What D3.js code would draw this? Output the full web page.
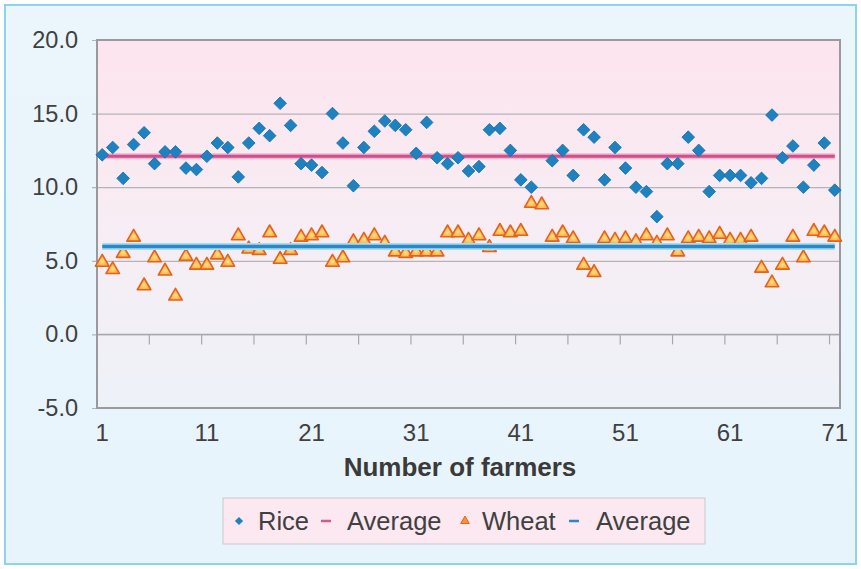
<!DOCTYPE html>
<html>
<head>
<meta charset="utf-8">
<script src="https://cdn.jsdelivr.net/npm/d3@7/dist/d3.min.js"></script>
<style>
  html, body { margin: 0; padding: 0; background: #ffffff; }
  svg { display: block; font-family: "Liberation Sans", Arial, sans-serif; }
</style>
</head>
<body>
<svg id="chart" width="861" height="569"></svg>
<script>
// Yield per farmer (one entry per farmer, 1..71); null = no rice record
const farmers = d3.range(1, 72);
const rice = [
  12.2, 12.7, 10.6, 12.9, 13.7, 11.6, 12.4, 12.4, 11.3, 11.2,
  12.1, 13.0, 12.7, 10.7, 13.0, 14.0, 13.5, 15.7, 14.2, 11.6,
  11.5, 11.0, 15.0, 13.0, 10.1, 12.7, 13.8, 14.5, 14.2, 13.9,
  12.3, 14.4, 12.0, 11.6, 12.0, 11.1, 11.4, 13.9, 14.0, 12.5,
  10.5, 10.0, null, 11.8, 12.5, 10.8, 13.9, 13.4, 10.5, 12.7,
  11.3, 10.0, 9.7, 8.0, 11.6, 11.6, 13.4, 12.5, 9.7, 10.8,
  10.8, 10.8, 10.3, 10.6, 14.9, 12.0, 12.8, 10.0, 11.5, 13.0, 9.8
];
const wheat = [
  4.9, 4.4, 5.5, 6.6, 3.3, 5.2, 4.3, 2.6, 5.3, 4.7,
  4.7, 5.4, 4.9, 6.7, 5.8, 5.7, 6.9, 5.1, 5.7, 6.6,
  6.7, 6.9, 4.9, 5.2, 6.3, 6.4, 6.7, 6.2, 5.6, 5.5,
  5.6, 5.6, 5.6, 6.9, 6.9, 6.4, 6.7, 5.9, 7.0, 6.9,
  7.0, 8.9, 8.8, 6.6, 6.9, 6.5, 4.7, 4.2, 6.5, 6.4,
  6.5, 6.3, 6.7, 6.2, 6.7, 5.6, 6.5, 6.6, 6.5, 6.8,
  6.4, 6.4, 6.6, 4.5, 3.5, 4.7, 6.6, 5.2, 7.0, 6.9, 6.6
];
const yTicks = [-5, 0, 5, 10, 15, 20];
const xTickLabels = [1, 11, 21, 31, 41, 51, 61, 71];
const legendItems = ["Rice", "Average", "Wheat", "Average"];

// Average lines use the mean of each series
const riceAvg = d3.mean(rice);
const wheatAvg = d3.mean(wheat);

const svg = d3.select("#chart");
const W = 861, H = 569;
const plot = { left: 97, right: 840, top: 40, bottom: 408 };

const defs = svg.append("defs");
const bg = defs.append("linearGradient").attr("id", "plotBg")
  .attr("x1", 0).attr("y1", 0).attr("x2", 0).attr("y2", 1);
bg.append("stop").attr("offset", "0%").attr("stop-color", "#fde4ee");
bg.append("stop").attr("offset", "45%").attr("stop-color", "#f8ecf3");
bg.append("stop").attr("offset", "100%").attr("stop-color", "#edf2f8");

const outerBg = defs.append("linearGradient").attr("id", "outerBg")
  .attr("x1", 0).attr("y1", 0).attr("x2", 0).attr("y2", 1);
outerBg.append("stop").attr("offset", "0%").attr("stop-color", "#eaf5fc");
outerBg.append("stop").attr("offset", "100%").attr("stop-color", "#e8f4fb");

const triFill = defs.append("radialGradient").attr("id", "triFill")
  .attr("cx", "50%").attr("cy", "60%").attr("r", "60%");
triFill.append("stop").attr("offset", "0%").attr("stop-color", "#fde07a");
triFill.append("stop").attr("offset", "100%").attr("stop-color", "#f59a3a");

// Chart frame
svg.append("rect").attr("x", 0).attr("y", 0).attr("width", W).attr("height", H).attr("fill", "#ffffff");
svg.append("rect").attr("x", 5).attr("y", 5).attr("width", W - 10).attr("height", H - 10)
  .attr("fill", "url(#outerBg)").attr("stroke", "#8dd3ec").attr("stroke-width", 2);

// Scales
const x = d3.scaleBand().domain(farmers).range([plot.left, plot.right]).padding(0);
const cx = d => x(d) + x.bandwidth() / 2;
const y = d3.scaleLinear().domain([-5, 20]).range([plot.bottom, plot.top]);

// Plot area
svg.append("rect").attr("x", plot.left).attr("y", plot.top)
  .attr("width", plot.right - plot.left).attr("height", plot.bottom - plot.top)
  .attr("fill", "url(#plotBg)");

// Gridlines + y axis labels (plain hyphen for negatives)
const fmt = d => d3.format(".1f")(d).replace("\u2212", "-");
const yAxis = d3.axisLeft(y).tickValues(yTicks).tickFormat(fmt)
  .tickSize(-(plot.right - plot.left)).tickPadding(19);
const gy = svg.append("g").attr("transform", `translate(${plot.left},0)`).call(yAxis);
gy.select(".domain").remove();
gy.selectAll(".tick line").attr("stroke", "#b4b4b8").attr("stroke-width", 1.2)
  .attr("x1", -5);
gy.selectAll(".tick text").attr("fill", "#404040").attr("font-size", 23.5);

// Category axis crossing at zero: ticks every 5 farmers
const boundaries = d3.range(5, 71, 5);
svg.append("g").selectAll("line").data(boundaries).join("line")
  .attr("x1", d => x(d) + x.bandwidth()).attr("x2", d => x(d) + x.bandwidth())
  .attr("y1", y(0)).attr("y2", y(0) + 10)
  .attr("stroke", "#a8a8ac").attr("stroke-width", 1.2);
svg.append("line").attr("x1", plot.left).attr("x2", plot.right)
  .attr("y1", y(0)).attr("y2", y(0)).attr("stroke", "#a8a8ac").attr("stroke-width", 1.4);

// Plot border
svg.append("rect").attr("x", plot.left).attr("y", plot.top)
  .attr("width", plot.right - plot.left).attr("height", plot.bottom - plot.top)
  .attr("fill", "none").attr("stroke", "#9a9a9e").attr("stroke-width", 2);

// X tick labels
svg.append("g").selectAll("text").data(xTickLabels).join("text")
  .attr("x", d => cx(d)).attr("y", plot.bottom + 33)
  .attr("text-anchor", "middle").attr("fill", "#404040").attr("font-size", 24)
  .text(d => d);

// Axis title
svg.append("text").attr("x", 460).attr("y", 476).attr("text-anchor", "middle")
  .attr("font-weight", "bold").attr("font-size", 26).attr("fill", "#3a3a3a")
  .text("Number of farmers");

// Rice average line
const lineGen = v => d3.line().x(d => cx(d)).y(() => y(v))(farmers);
svg.append("path").attr("d", lineGen(riceAvg)).attr("fill", "none")
  .attr("stroke", "#f2b6cf").attr("stroke-width", 6);
svg.append("path").attr("d", lineGen(riceAvg)).attr("fill", "none")
  .attr("stroke", "#cf4f8c").attr("stroke-width", 3);

// Rice points (diamonds)
const diamond = d3.symbol().type(d3.symbolSquare).size(80);
svg.append("g").selectAll("path").data(farmers.filter(d => rice[d - 1] != null)).join("path")
  .attr("d", diamond)
  .attr("transform", d => `translate(${cx(d)},${y(rice[d - 1])}) rotate(45)`)
  .attr("fill", "#1d82bf").attr("stroke", "#1670a8").attr("stroke-width", 0.8);

// Wheat points (triangles)
const tri = d3.symbol().type(d3.symbolTriangle).size(80);
svg.append("g").selectAll("path").data(farmers).join("path")
  .attr("d", tri)
  .attr("transform", d => `translate(${cx(d)},${y(wheat[d - 1])})`)
  .attr("fill", "url(#triFill)").attr("stroke", "#e5621c").attr("stroke-width", 1.6)
  .attr("stroke-linejoin", "round");

// Wheat average line
svg.append("path").attr("d", lineGen(wheatAvg)).attr("fill", "none")
  .attr("stroke", "#a6dcf4").attr("stroke-width", 7);
svg.append("path").attr("d", lineGen(wheatAvg)).attr("fill", "none")
  .attr("stroke", "#2a88c6").attr("stroke-width", 3.5);

// Legend
const lg = svg.append("g");
lg.append("rect").attr("x", 223).attr("y", 498).attr("width", 482).attr("height", 46)
  .attr("fill", "#fbe8f0").attr("stroke", "#c9c9cc").attr("stroke-width", 1);
const ly = 521;
const itemX = [239, 326, 465, 574];
const textX = [258, 347, 482, 596];
lg.append("path").attr("d", d3.symbol().type(d3.symbolSquare).size(34))
  .attr("transform", `translate(${itemX[0]},${ly}) rotate(45)`).attr("fill", "#1d82bf");
lg.append("line").attr("x1", itemX[1] - 5).attr("x2", itemX[1] + 5).attr("y1", ly).attr("y2", ly)
  .attr("stroke", "#d45890").attr("stroke-width", 2.5);
lg.append("path").attr("d", d3.symbol().type(d3.symbolTriangle).size(32))
  .attr("transform", `translate(${itemX[2]},${ly})`).attr("fill", "#f7913a").attr("stroke", "#e5621c");
lg.append("line").attr("x1", itemX[3] - 5).attr("x2", itemX[3] + 5).attr("y1", ly).attr("y2", ly)
  .attr("stroke", "#2a88c6").attr("stroke-width", 2.5);
lg.selectAll("text.item").data(legendItems).join("text").attr("class", "item")
  .attr("x", (d, i) => textX[i]).attr("y", ly + 9)
  .attr("font-size", 25.5).attr("fill", "#404040").text(d => d);
</script>
</body>
</html>
